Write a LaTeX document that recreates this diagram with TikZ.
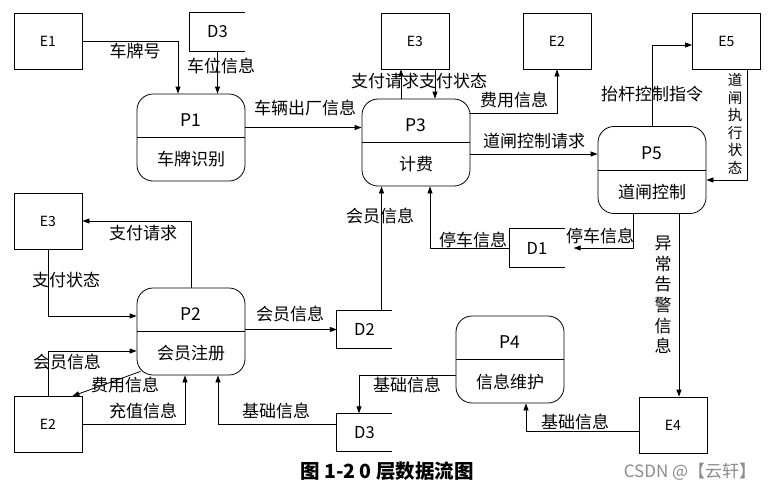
\documentclass[tikz,border=0pt]{standalone}
\usepackage{fontspec}
\setmainfont{Noto Sans CJK SC}
\usetikzlibrary{arrows.meta,calc}
\newcommand{\procnode}[5]{%
  \node[proc] (#1) at (#2,#3) {};
  \draw[line width=0.8pt] (#1.west) -- (#1.east);
  \node[ptitle] at ($(#1.center)+(0,-17)$) {#4};
  \node[pname] at ($(#1.center)+(0,22)$) {#5};
}
\newcommand{\storenode}[4]{%
  \node[store] (#1) at (#2,#3) {#4};
  \draw[line width=0.8pt] (#1.north east) -- (#1.north west) -- (#1.south west) -- (#1.south east);
}
\begin{document}
\begin{tikzpicture}[x=1pt,y=-1pt,
  box/.style={draw,line width=0.8pt,minimum width=68pt,minimum height=56pt,inner sep=0pt,font=\fontsize{14}{16}\selectfont},
  proc/.style={draw,line width=0.8pt,rounded corners=16pt,minimum width=108pt,minimum height=87pt,inner sep=0pt},
  ptitle/.style={inner sep=0pt,font=\fontsize{17.5}{19}\selectfont},
  pname/.style={inner sep=0pt,font=\fontsize{17}{18}\selectfont},
  store/.style={minimum width=55pt,minimum height=38pt,inner sep=0pt,font=\fontsize{16.5}{18}\selectfont},
  flow/.style={line width=0.8pt,-{Triangle[length=7pt,width=5pt]}},
  lbl/.style={inner sep=0pt,font=\fontsize{17}{18}\selectfont}]
\useasboundingbox[fill=white] (0,0) rectangle (769,493);

% external entities
\node[box] (E1) at (48,41) {E1};
\node[box] (E3t) at (415,41) {E3};
\node[box] (E2t) at (557,41) {E2};
\node[box] (E5) at (726.5,41) {E5};
\node[box] (E3l) at (48,221) {E3};
\node[box] (E2l) at (48,424.5) {E2};
\node[box] (E4) at (673,425) {E4};

% data stores
\storenode{D3t}{217.5}{32}{D3}
\storenode{D1}{537}{248}{D1}
\storenode{D2}{364.5}{329.5}{D2}
\storenode{D3b}{364.5}{432.5}{D3}

% processes
\procnode{P1}{191}{137.5}{P1}{车牌识别}
\procnode{P3}{416}{142.5}{P3}{计费}
\procnode{P5}{652}{170}{P5}{道闸控制}
\procnode{P2}{191}{331.5}{P2}{会员注册}
\procnode{P4}{510}{359.5}{P4}{信息维护}

% flows
\draw[flow] (E1.east) -| ([xshift=-13pt]P1.north);
\draw[flow] (D3t.south) -- (D3t.south |- P1.north);
\draw[flow] ([yshift=10pt]P1.east) -- ([yshift=10pt]P1.east -| P3.west);
\draw[flow] ([xshift=-14pt]E3t.south |- P3.north) -- ([xshift=-14pt]E3t.south);
\draw[flow] ([xshift=20pt]E3t.south) -- ([xshift=20pt]E3t.south |- P3.north);
\draw[flow] ([yshift=29.5pt]P3.east) -| (E2t.south);
\draw[flow] ([yshift=-11.5pt]P3.east) -- ([yshift=-11.5pt]P3.east -| P5.west);
\draw[flow] (P5.north) |- ([yshift=-4pt]E5.west);
\draw[flow] ([xshift=20.5pt]E5.south) |- ([yshift=-10pt]P5.east);
\draw[flow] ([xshift=-19pt]P5.south) |- ([xshift=9pt]D1.east);
\draw[flow] (D1.west) -| ([xshift=14pt]P3.south);
\draw[flow] ([xshift=17pt]D2.north) -- ([xshift=17pt]D2.north |- P3.south);
\draw[flow] (P2.east |- D2.west) -- (D2.west);
\draw[flow] ([xshift=27pt]P5.south) -- ([xshift=27pt]P5.south |- E4.north);
\draw[flow] ([yshift=-6pt]E4.west) -| ([xshift=16pt]P4.south);
\draw[flow] ([yshift=-15.5pt]P4.west) -| ([xshift=-5.5pt]D3b.north);
\draw[flow] ([yshift=8.5pt]D3b.west) -| ([xshift=27pt]P2.south);
\draw[flow] (P2.north) |- (E3l.east);
\draw[flow] (E3l.south) |- ([yshift=15.5pt]P2.west);
\draw[flow] (E2l.north) |- ([yshift=-19.5pt]P2.west);
\draw[flow] ([shift={(4pt,4pt)}]P2.south west) -- ([xshift=-10pt]E2l.north east);
\draw[flow] (E2l.east) -| ([xshift=-6pt]P2.south);

% labels
\node[lbl] at (135,51) {车牌号};
\node[lbl] at (221,66) {车位信息};
\node[lbl] at (305,108) {车辆出厂信息};
\node[lbl] at (419,81) {支付请求支付状态};
\node[lbl] at (514,100) {费用信息};
\node[lbl] at (534,141) {道闸控制请求};
\node[lbl] at (652,94) {抬杆控制指令};
\node[inner sep=0pt,align=center,font=\fontsize{14.5}{17.5}\selectfont] at (735,124) {道\\闸\\执\\行\\状\\态};
\node[inner sep=0pt,align=center,font=\fontsize{17}{20.6}\selectfont] at (663,295) {异\\常\\告\\警\\信\\息};
\node[lbl] at (600,236) {停车信息};
\node[lbl] at (473,240) {停车信息};
\node[lbl] at (380,216) {会员信息};
\node[lbl] at (290,314) {会员信息};
\node[lbl] at (407,385) {基础信息};
\node[lbl] at (575,422) {基础信息};
\node[lbl] at (276,411) {基础信息};
\node[lbl] at (143,411) {充值信息};
\node[lbl] at (125,385) {费用信息};
\node[lbl] at (67,362) {会员信息};
\node[lbl] at (143,233) {支付请求};
\node[lbl] at (66,280) {支付状态};

% caption
\node[inner sep=0pt,font=\fontsize{19.5}{21}\selectfont\bfseries] (cap) at (387,471) {图 1-2 0 层数据流图};
\node[inner sep=0pt,text=black!45,font=\fontsize{17}{19}\selectfont] (wm) at (690,472) {CSDN @【云轩】};
\end{tikzpicture}
\end{document}
